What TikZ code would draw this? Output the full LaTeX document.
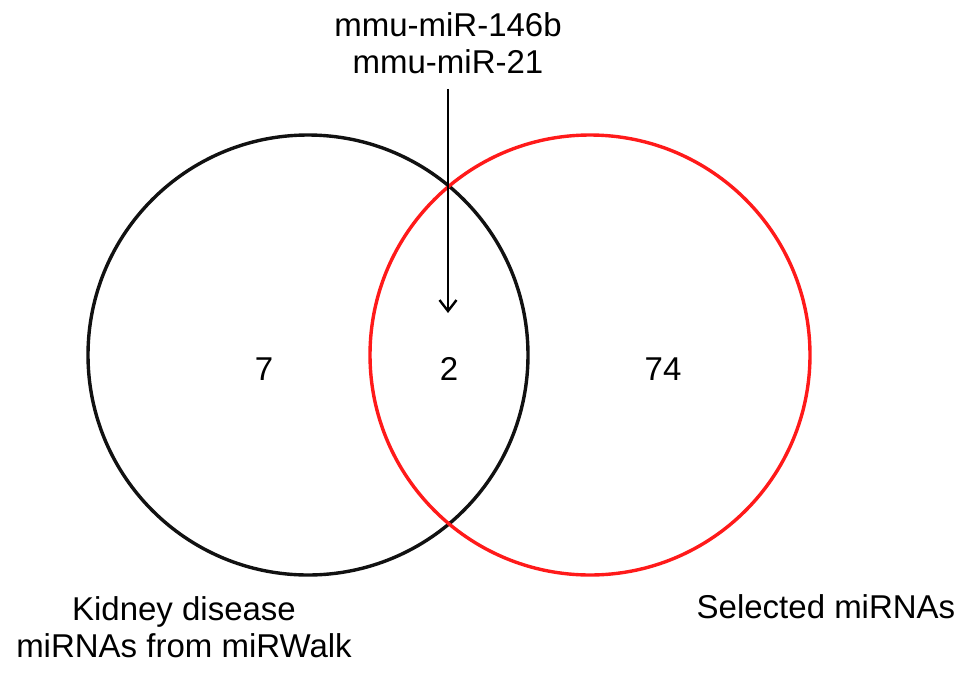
\documentclass[tikz,border=0pt]{standalone}
\usepackage{fontspec}
\setmainfont{Liberation Sans}
\usetikzlibrary{arrows.meta,positioning}
\definecolor{setred}{HTML}{FF1A1A}
\definecolor{setblack}{HTML}{111111}

\begin{document}
\begin{tikzpicture}[x=1pt,y=-1pt,
    setline/.style={line width=3.4pt},
    lbl/.style={font=\fontsize{33}{37}\selectfont,align=center,inner sep=0pt}]
  \useasboundingbox (0,0) rectangle (969,672);

  % the two sets
  \draw[setline,setblack] (308,355) circle (220);
  \draw[setline,setred] (590,355) circle (220);

  % counts
  \node[lbl] (nleft) at (264,369) {7};
  \node[lbl] (nboth) at (449,369) {2};
  \node[lbl] (nright) at (663,369) {74};

  % shared miRNAs
  \node[lbl] (shared) at (448,43) {mmu-miR-146b\\mmu-miR-21};
  \coordinate (tip) at (448,313);
  \draw[line width=2.4pt,-{Straight Barb[length=11pt,width=17pt,line width=2.4pt]}] ([yshift=-15pt]shared.south) -- (tip);

  % set names
  \node[lbl] (kidney) at (184,627) {Kidney disease\\miRNAs from miRWalk};
  \node[lbl] (selected) at (826,607) {Selected miRNAs};
\end{tikzpicture}
\end{document}
